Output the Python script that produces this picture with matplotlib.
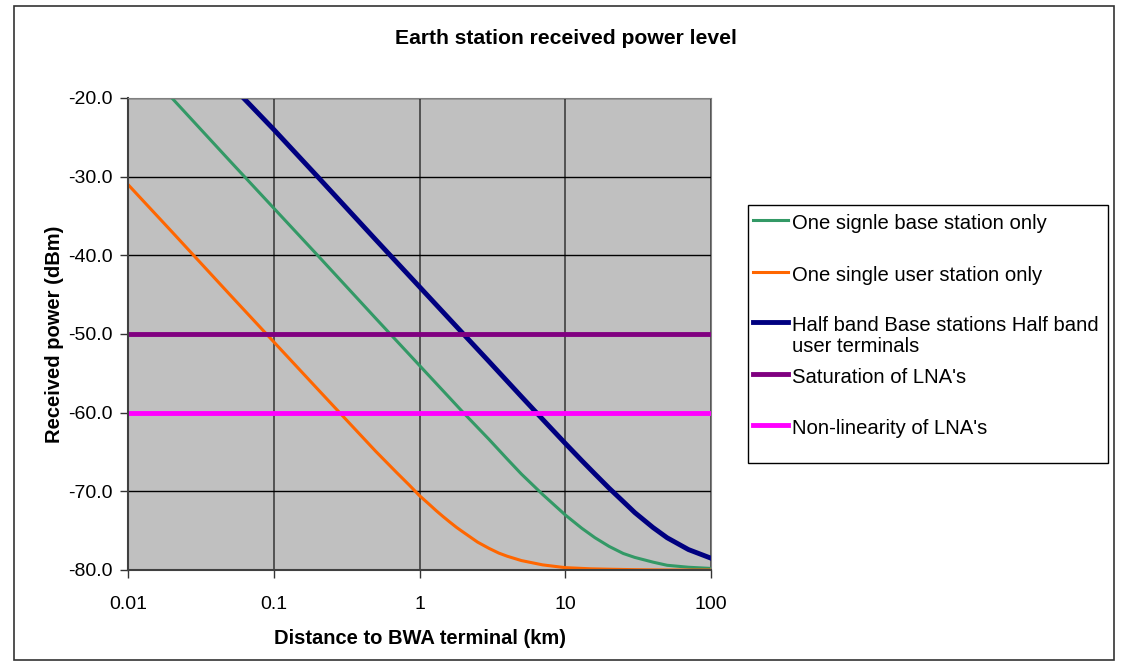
import numpy as np
import matplotlib.pyplot as plt
from matplotlib.patches import Rectangle
from matplotlib.lines import Line2D

plt.rcParams['font.family'] = ['Liberation Sans', 'DejaVu Sans']

# Valores
dist_orange = [0.01, 0.02, 0.05, 0.1, 0.2, 0.3, 0.5, 0.7, 0.85, 1, 1.15, 1.3, 1.45, 1.6, 1.8,
               2, 2.5, 3, 3.5, 4, 5, 7, 10, 15, 20, 30, 50, 100]
pow_orange = [-31.0, -37.0, -45.0, -51.0, -57.0, -60.5, -64.9, -67.65, -69.2, -70.55, -71.55,
              -72.45, -73.2, -73.85, -74.6, -75.2, -76.45, -77.25, -77.85, -78.25, -78.8,
              -79.35, -79.7, -79.85, -79.9, -79.96, -80.0, -80.0]

dist_green = [0.02, 0.05, 0.1, 0.2, 0.5, 1, 2, 3, 4, 5, 7, 10, 13, 16, 20, 25, 30, 40, 50,
              70, 100]
pow_green = [-20.0, -28.0, -34.0, -40.0, -48.0, -54.0, -60.0, -63.4, -65.9, -67.8, -70.4,
             -73.0, -74.7, -75.9, -77.0, -77.9, -78.4, -79.0, -79.4, -79.65, -79.8]

dist_blue = [0.062, 0.1, 0.2, 0.5, 1, 2, 3, 5, 7, 10, 13, 16, 20, 25, 30, 40, 50, 70, 100]
pow_blue = [-20.0, -24.0, -30.0, -38.0, -44.0, -50.0, -53.5, -57.95, -60.85, -63.9, -66.1,
            -67.8, -69.6, -71.3, -72.7, -74.6, -75.9, -77.4, -78.5]

dist_lim = [0.01, 100]
saturacion = [-50.0, -50.0]
no_linealidad = [-60.0, -60.0]

etiquetas = ["One signle base station only",
             "One single user station only",
             "Half band Base stations Half band\nuser terminals",
             "Saturation of LNA's",
             "Non-linearity of LNA's"]
colores = ['#339966', '#FF6600', '#000080', '#800080', '#FF00FF']
grosores = [2.2, 2.2, 3.5, 3.5, 3.5]

W, H = 1121, 663
fig = plt.figure(figsize=(W / 100, H / 100), dpi=100)
fig.patches.append(Rectangle((14 / W, 1 - 660 / H), 1100 / W, 654 / H,
                             transform=fig.transFigure, fill=False, edgecolor='#333333', lw=1.2))

ax = fig.add_axes([128 / W, 1 - 570 / H, 583 / W, 472 / H])
ax.set_facecolor('#C0C0C0')

series = [(dist_green, pow_green), (dist_orange, pow_orange), (dist_blue, pow_blue),
          (dist_lim, saturacion), (dist_lim, no_linealidad)]
for (x, y), c, lw, lab in zip(series, colores, grosores, etiquetas):
    ax.plot(x, y, color=c, lw=lw, label=lab)

ax.set_xscale('log')
ax.set_xlim(0.01, 100)
ax.set_ylim(-80, -20)
ax.set_xticks([0.01, 0.1, 1, 10, 100])
ax.set_xticklabels(['0.01', '0.1', '1', '10', '100'])
ax.minorticks_off()
ax.set_yticks(np.arange(-80, -19, 10))
ax.set_yticklabels(['%.1f' % v for v in np.arange(-80, -19, 10)])
ax.tick_params(labelsize=14, length=6, width=1, color='#333333')
ax.tick_params(axis='x', pad=13)
ax.tick_params(axis='y', pad=5)

ax.xaxis.grid(True, color='#404040', lw=1.2)
ax.yaxis.grid(True, color='black', lw=1.0)
ax.set_axisbelow(True)
for s in ['top', 'right']:
    ax.spines[s].set_color('#808080')
for s in ['left', 'bottom']:
    ax.spines[s].set_color('#404040')
    ax.spines[s].set_linewidth(1.5)

ax.set_xlabel("Distance to BWA terminal (km)", fontsize=14.5, fontweight='bold', labelpad=11)
ax.set_ylabel("Received power (dBm)", fontsize=14.5, fontweight='bold', labelpad=3)
fig.text(566 / W, 1 - 39 / H, "Earth station received power level", ha='center', va='center',
         fontsize=15.2, fontweight='bold')

# Leyenda al estilo Excel
fig.patches.append(Rectangle((748 / W, 1 - 463 / H), 360 / W, 258 / H,
                             transform=fig.transFigure, fill=True, facecolor='white',
                             edgecolor='black', lw=1.0))
filas = [220, 272, 322, 374, 425]
for fila, c, lw, lab in zip(filas, colores, grosores, etiquetas):
    yy = 1 - fila / H
    fig.lines.append(Line2D([753 / W, 788 / W], [yy, yy], transform=fig.transFigure,
                            color=c, lw=lw))
    fig.text(792 / W, 1 - (fila - 6) / H, lab, ha='left', va='top', fontsize=14.6,
             linespacing=1.1)

plt.savefig('out.png', dpi=100)
